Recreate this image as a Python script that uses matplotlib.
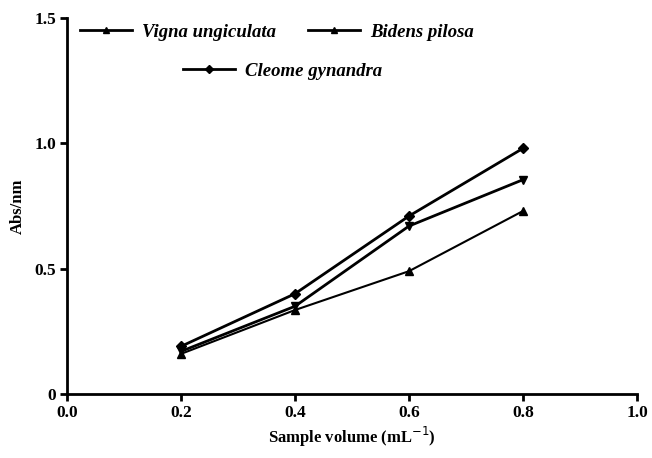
import matplotlib
matplotlib.use("Agg")
import matplotlib.pyplot as plt
from matplotlib.lines import Line2D

x = [0.2, 0.4, 0.6, 0.8]
vigna = [0.17, 0.35, 0.67, 0.855]
bidens = [0.16, 0.335, 0.49, 0.73]
cleome = [0.19, 0.40, 0.71, 0.98]
xticks = [0.0, 0.2, 0.4, 0.6, 0.8, 1.0]
xticklabels = ["0.0", "0.2", "0.4", "0.6", "0.8", "1.0"]
yticks = [0, 0.5, 1.0, 1.5]
yticklabels = ["0", "0.5", "1.0", "1.5"]

plt.rcParams['font.family'] = ['Liberation Serif', 'DejaVu Serif']

W, H = 652, 458
fig = plt.figure(figsize=(W/100, H/100), dpi=100)
ax = fig.add_axes([67/W, 1-394/H, (637-67)/W, (394-18)/H])

lw = 2.0
ax.plot(x, vigna, color='black', lw=lw, marker='v', ms=6)
ax.plot(x, bidens, color='black', lw=1.5, marker='^', ms=6)
ax.plot(x, cleome, color='black', lw=lw, marker='D', ms=5)

ax.set_xlim(0, 1.0)
ax.set_ylim(0, 1.5)
ax.set_xticks(xticks)
ax.set_xticklabels(xticklabels, fontsize=12.5, fontweight='bold')
ax.set_yticks(yticks)
ax.set_yticklabels(yticklabels, fontsize=12.5, fontweight='bold')
for s in ['top', 'right']:
    ax.spines[s].set_visible(False)
for s in ['left', 'bottom']:
    ax.spines[s].set_linewidth(2)
ax.tick_params(width=2, length=5, pad=3)

ax.set_xlabel("Sample volume (mL$^{-1}$)", fontsize=12, fontweight='bold', labelpad=3)
ax.set_ylabel("Abs/nm", fontsize=12, fontweight='bold', labelpad=6)

def add_leg(label, marker, ms, lwid, px, py):
    h = Line2D([], [], color='black', lw=lwid, marker=marker, ms=ms)
    leg = fig.legend([h], [label], loc='center left', bbox_to_anchor=(px/W, 1-py/H),
                     frameon=False, handlelength=2.8, handletextpad=0.5,
                     prop={'family': 'Liberation Serif', 'style': 'italic', 'weight': 'bold', 'size': 13.5})
    return leg

add_leg("Vigna ungiculata", '^', 5, 2, 63, 32)
add_leg("Bidens pilosa", '^', 5, 2, 291, 32)
add_leg("Cleome gynandra", 'D', 4, 2, 166, 71)

fig.savefig("out.png", dpi=100)
